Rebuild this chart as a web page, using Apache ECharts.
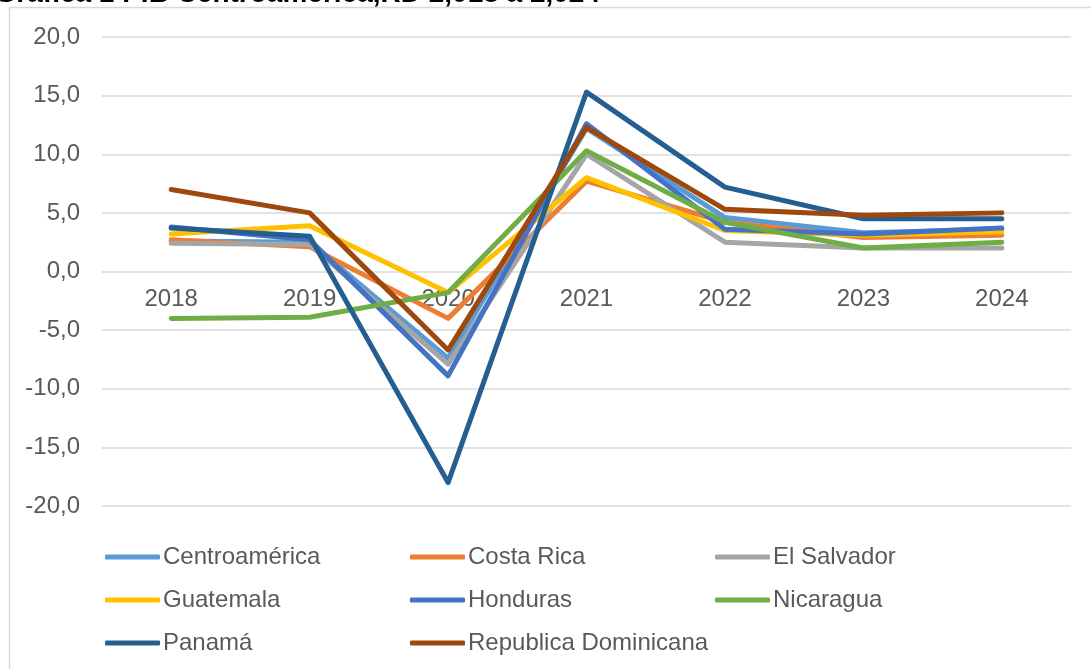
<!DOCTYPE html>
<html>
<head>
<meta charset="utf-8">
<script src="https://cdn.jsdelivr.net/npm/echarts@6/dist/echarts.min.js"></script>
<style>
  html, body { margin: 0; padding: 0; background: #fff; }
  #main { width: 1091px; height: 669px; }
</style>
</head>
<body>
<div id="main"></div>
<script>
// años
var years = ['2018', '2019', '2020', '2021', '2022', '2023', '2024']
// crecimiento del PIB (%)
var centroamerica = [2.6, 2.5, -7.4, 12.2, 4.6, 3.3, 3.6]
var costaRica = [2.7, 2.1, -4.0, 7.7, 4.2, 2.9, 3.1]
var elSalvador = [2.4, 2.3, -7.9, 10.0, 2.5, 2.0, 2.0]
var guatemala = [3.2, 3.9, -1.8, 8.0, 3.5, 3.1, 3.4]
var honduras = [3.8, 2.7, -8.9, 12.6, 3.6, 3.2, 3.7]
var nicaragua = [-4.0, -3.9, -1.8, 10.3, 4.2, 2.0, 2.5]
var panama = [3.7, 3.0, -18.0, 15.3, 7.2, 4.5, 4.5]
var repDominicana = [7.0, 5.0, -6.7, 12.3, 5.3, 4.8, 5.0]

var font = 'Liberation Sans, Arial, sans-serif'
var gray = '#595959'

function line (name, data, color) {
  return {
    name: name,
    type: 'line',
    data: data,
    symbol: 'none',
    lineStyle: { width: 5, color: color, cap: 'round', join: 'round' },
    itemStyle: { color: color }
  }
}

function legendCol (left, names) {
  return {
    orient: 'vertical',
    left: left,
    top: 544,
    padding: 0,
    itemWidth: 55,
    itemHeight: 5,
    itemGap: 17,
    icon: 'roundRect',
    data: names,
    textStyle: { fontFamily: font, fontSize: 24, color: gray, lineHeight: 26, padding: [0, 0, 0, -2] }
  }
}

var myChart = echarts.init(document.getElementById('main'))
myChart.setOption({
  animation: false,
  textStyle: { fontFamily: font },
  graphic: [
    {
      type: 'rect',
      shape: { x: 9.5, y: 7.5, width: 1200, height: 800 },
      style: { fill: 'none', stroke: '#d9d9d9', lineWidth: 1.5 },
      silent: true
    },
    {
      type: 'text',
      x: 600,
      y: 8,
      style: {
        text: 'Gráfica 1 PIB Centroamérica,RD 2,018 a 2,024',
        font: 'bold 28px Liberation Sans, Arial, sans-serif',
        fill: '#000',
        textAlign: 'right',
        textVerticalAlign: 'bottom'
      },
      silent: true
    }
  ],
  grid: { left: 102, right: 20, top: 37, bottom: 163 },
  legend: [
    legendCol(105, ['Centroamérica', 'Guatemala', 'Panamá']),
    legendCol(410, ['Costa Rica', 'Honduras', 'Republica Dominicana']),
    legendCol(715, ['El Salvador', 'Nicaragua'])
  ],
  xAxis: {
    type: 'category',
    data: years,
    boundaryGap: true,
    // etiquetas junto a la línea de cero, como en Excel
    offset: -234,
    axisLine: { show: false, onZero: false },
    axisTick: { show: false },
    axisLabel: { fontSize: 24, color: gray, margin: 15 }
  },
  yAxis: {
    type: 'value',
    min: -20,
    max: 20,
    interval: 5,
    axisLine: { show: false },
    axisTick: { show: false },
    axisLabel: {
      fontSize: 24,
      color: gray,
      margin: 22,
      formatter: function (v) { return v.toFixed(1).replace('.', ',') }
    },
    splitLine: { lineStyle: { color: '#d9d9d9', width: 1.5 } }
  },
  series: [
    line('Centroamérica', centroamerica, '#5B9BD5'),
    line('Costa Rica', costaRica, '#ED7D31'),
    line('El Salvador', elSalvador, '#A5A5A5'),
    line('Guatemala', guatemala, '#FFC000'),
    line('Honduras', honduras, '#4472C4'),
    line('Nicaragua', nicaragua, '#70AD47'),
    line('Panamá', panama, '#255E91'),
    line('Republica Dominicana', repDominicana, '#9E480E')
  ]
})
</script>
</body>
</html>
